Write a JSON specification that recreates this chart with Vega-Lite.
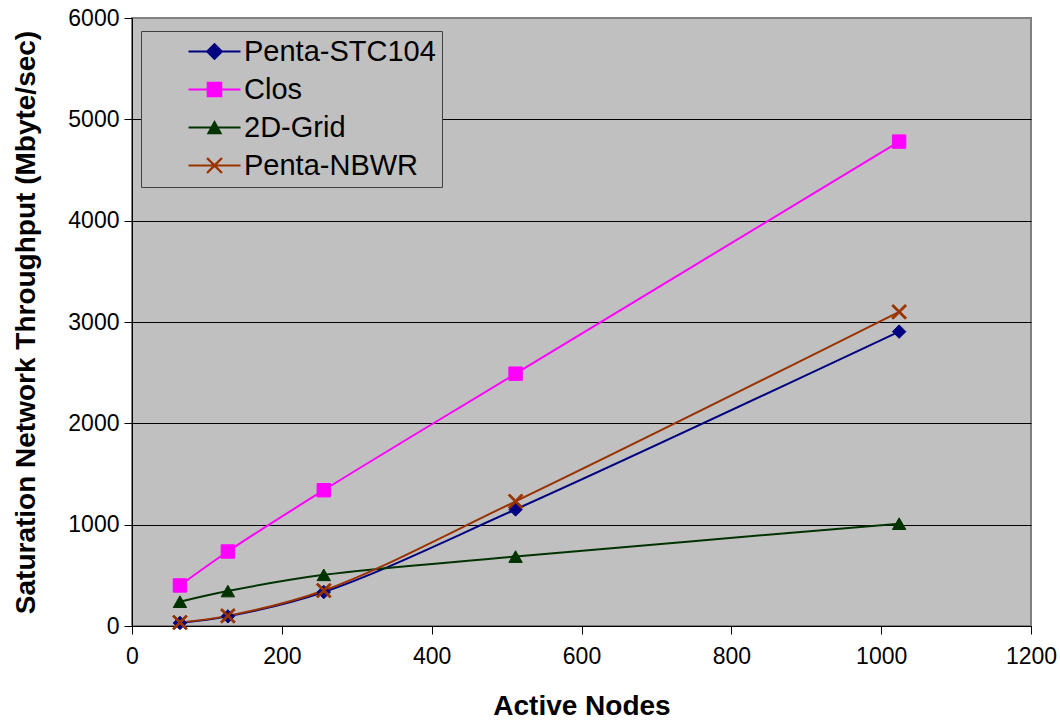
{
  "$schema": "https://vega.github.io/schema/vega-lite/v6.json",
  "width": 899,
  "height": 608,
  "autosize": {"type": "none"},
  "padding": {"left": 132, "top": 18, "right": 29, "bottom": 95},
  "background": "white",
  "config": {
    "font": "Liberation Sans",
    "view": {"fill": "#C0C0C0", "stroke": "#808080", "strokeWidth": 2}
  },
  "data": {
    "values": [
      {"series": "Penta-STC104", "nodes": 64, "throughput": 30},
      {"series": "Penta-STC104", "nodes": 128, "throughput": 95},
      {"series": "Penta-STC104", "nodes": 256, "throughput": 335},
      {"series": "Penta-STC104", "nodes": 512, "throughput": 1150},
      {"series": "Penta-STC104", "nodes": 1024, "throughput": 2905},
      {"series": "Clos", "nodes": 64, "throughput": 400},
      {"series": "Clos", "nodes": 128, "throughput": 735},
      {"series": "Clos", "nodes": 256, "throughput": 1340},
      {"series": "Clos", "nodes": 512, "throughput": 2490},
      {"series": "Clos", "nodes": 1024, "throughput": 4780},
      {"series": "2D-Grid", "nodes": 64, "throughput": 240},
      {"series": "2D-Grid", "nodes": 128, "throughput": 345},
      {"series": "2D-Grid", "nodes": 256, "throughput": 505},
      {"series": "2D-Grid", "nodes": 512, "throughput": 685},
      {"series": "2D-Grid", "nodes": 1024, "throughput": 1010},
      {"series": "Penta-NBWR", "nodes": 64, "throughput": 35},
      {"series": "Penta-NBWR", "nodes": 128, "throughput": 100},
      {"series": "Penta-NBWR", "nodes": 256, "throughput": 350},
      {"series": "Penta-NBWR", "nodes": 512, "throughput": 1230},
      {"series": "Penta-NBWR", "nodes": 1024, "throughput": 3100}
    ]
  },
  "encoding": {
    "x": {
      "field": "nodes",
      "type": "quantitative",
      "scale": {"domain": [0, 1200], "nice": false},
      "axis": {
        "title": "Active Nodes",
        "values": [0, 200, 400, 600, 800, 1000, 1200],
        "format": "d",
        "grid": false,
        "domainColor": "black",
        "domainWidth": 1,
        "tickColor": "black",
        "tickSize": 8,
        "labelFontSize": 23,
        "labelColor": "black",
        "labelPadding": 11,
        "labelFlush": false,
        "titleFontSize": 28,
        "titleFontWeight": "bold",
        "titleColor": "black",
        "titlePadding": 24
      }
    },
    "y": {
      "field": "throughput",
      "type": "quantitative",
      "scale": {"domain": [0, 6000], "nice": false},
      "axis": {
        "title": "Saturation Network Throughput (Mbyte/sec)",
        "values": [0, 1000, 2000, 3000, 4000, 5000, 6000],
        "format": "d",
        "grid": true,
        "gridColor": {"condition": {"test": "datum.value === 6000", "value": "#808080"}, "value": "black"},
        "gridWidth": 1,
        "gridOpacity": 1,
        "domainColor": "black",
        "domainWidth": 1,
        "tickColor": "black",
        "tickSize": 8,
        "labelFontSize": 23,
        "labelColor": "black",
        "labelPadding": 5,
        "labelFlush": false,
        "titleFontSize": 28,
        "titleFontWeight": "bold",
        "titleColor": "black",
        "titlePadding": 27
      }
    }
  },
  "layer": [
    {
      "mark": {"type": "line", "interpolate": "catmull-rom", "strokeWidth": 2},
      "encoding": {
        "stroke": {
          "field": "series",
          "type": "nominal",
          "scale": {"domain": ["Clos", "Penta-STC104", "2D-Grid", "Penta-NBWR"], "range": ["#FF00FF", "#000080", "#003300", "#993300"]},
          "legend": null
        }
      }
    },
    {
      "mark": {"type": "point", "filled": true, "opacity": 1, "strokeWidth": 1, "size": 180},
      "encoding": {
        "fill": {
          "field": "series",
          "type": "nominal",
          "scale": {"domain": ["Clos", "Penta-STC104", "2D-Grid", "Penta-NBWR"], "range": ["#FF00FF", "#000080", "#003300", "#993300"]},
          "legend": null
        },
        "stroke": {
          "field": "series",
          "type": "nominal",
          "scale": {"domain": ["Clos", "Penta-STC104", "2D-Grid", "Penta-NBWR"], "range": ["#FF00FF", "#000080", "#003300", "#993300"]},
          "legend": null
        },
        "shape": {
          "field": "series",
          "type": "nominal",
          "scale": {
            "domain": ["Clos", "Penta-STC104", "2D-Grid", "Penta-NBWR"],
            "range": ["square", "diamond", "triangle-up", "M-1.1,-0.88L-0.88,-1.1L0,-0.22L0.88,-1.1L1.1,-0.88L0.22,0L1.1,0.88L0.88,1.1L0,0.22L-0.88,1.1L-1.1,0.88L-0.22,0Z"]
          },
          "legend": null
        }
      }
    },
    {
      "mark": {"type": "point", "filled": true, "opacity": 0},
      "encoding": {
        "color": {
          "field": "series",
          "type": "nominal",
          "scale": {"domain": ["Penta-STC104", "Clos", "2D-Grid", "Penta-NBWR"], "range": ["#000080", "#FF00FF", "#003300", "#993300"]},
          "legend": {
            "title": null,
            "orient": "none",
            "legendX": 9,
            "legendY": 13,
            "fillColor": "#C0C0C0",
            "strokeColor": "#404040",
            "padding": 6,
            "symbolSize": 676,
            "symbolStrokeWidth": 0,
            "symbolOffset": 53,
            "labelOffset": 15,
            "labelFontSize": 29,
            "labelColor": "black",
            "labelFont": "Liberation Sans",
            "labelLimit": 500,
            "rowPadding": 8,
            "symbolOpacity": 1,
            "labelExpr": "datum.label + '\u00a0\u00a0\u00a0\u00a0\u00a0\u00a0\u00a0'"
          }
        },
        "shape": {
          "field": "series",
          "type": "nominal",
          "scale": {
            "domain": ["Penta-STC104", "Clos", "2D-Grid", "Penta-NBWR"],
            "range": [
              "M-2,-0.08H2V0.08H-2ZM0,-0.68L0.68,0L0,0.68L-0.68,0Z",
              "M-2,-0.08H2V0.08H-2ZM-0.6,-0.6H0.6V0.6H-0.6Z",
              "M-2,-0.08H2V0.08H-2ZM0,-0.58L0.6,0.52L-0.6,0.52Z",
              "M-2,-0.08H2V0.08H-2ZM-0.64,-0.512L-0.512,-0.64L0,-0.128L0.512,-0.64L0.64,-0.512L0.128,0L0.64,0.512L0.512,0.64L0,0.128L-0.512,0.64L-0.64,0.512L-0.128,0Z"
            ]
          },
          "legend": {
            "title": null,
            "orient": "none",
            "legendX": 9,
            "legendY": 13,
            "fillColor": "#C0C0C0",
            "strokeColor": "#404040",
            "padding": 6,
            "symbolSize": 676,
            "symbolStrokeWidth": 0,
            "symbolOffset": 53,
            "labelOffset": 15,
            "labelFontSize": 29,
            "labelColor": "black",
            "labelFont": "Liberation Sans",
            "labelLimit": 500,
            "rowPadding": 8,
            "symbolOpacity": 1,
            "labelExpr": "datum.label + '\u00a0\u00a0\u00a0\u00a0\u00a0\u00a0\u00a0'"
          }
        }
      }
    }
  ],
  "resolve": {"scale": {"shape": "independent", "color": "independent"}}
}
